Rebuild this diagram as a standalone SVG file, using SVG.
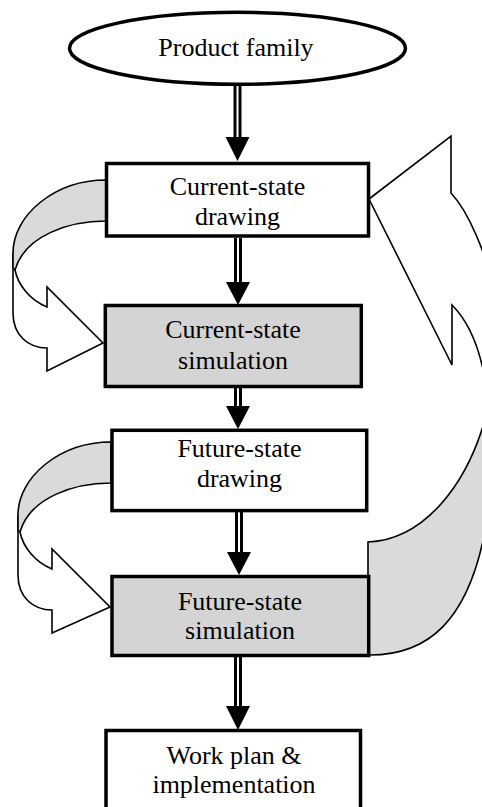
<svg xmlns="http://www.w3.org/2000/svg" width="482" height="807" viewBox="0 0 482 807">
<style>
.box{stroke:#000;stroke-width:3.5}
.wf{fill:#fff}
.gf{fill:#d4d4d4}
.rib{stroke:#000;stroke-width:1.6;stroke-linejoin:miter}
.rg{fill:#dadada}
.rw{fill:#fff}
text{font-family:"Liberation Serif","Times New Roman",serif;font-size:26px;text-anchor:middle;fill:#000}
.sh{stroke:#000;stroke-width:3}
.hd{fill:#000}
</style>
<rect width="482" height="807" fill="#fff"/>
<g id="ribbon-left-1">
  <path class="rib rw" d="M15,270 C18,285 30,300 47,307 L47,287 L103,343 L47,371 L47,348 C28,348 13,335 13,313 L13,253"/>
  <path class="rib rg" d="M106,180 C55,180 13,215 13,253 L13,268 L15,270 C25,235 70,221 106,221 Z"/>
</g>
<g id="ribbon-left-2">
  <path class="rib rw" d="M20,532 C23,547 35,562 52,569 L52,549 L110,607 L52,633 L52,610 C33,610 18,597 18,575 L18,515"/>
  <path class="rib rg" d="M111,442 C60,442 18,477 18,515 L18,530 L20,532 C30,497 75,483 111,483 Z"/>
</g>
<g id="ribbon-right">
  <path class="rib rw" d="M369,199 L451,136 L451,193 C468,211 486,252 497,300 L515,300 L515,420 L488,400 C482,345 465,318 452,305 L452,365 Z"/>
  <path class="rib rg" d="M368,542 C420,540 470,490 490,400 L520,400 L520,560 L487,520 C470,625 425,655 370,655 L368,655 Z"/>
</g>
<g id="connectors">
  <line class="sh" x1="235" y1="86" x2="235" y2="139"/><line class="sh" x1="240" y1="86" x2="240" y2="139"/>
  <polygon class="hd" points="225.5,137 249.5,137 237.5,161"/>
  <line class="sh" x1="235.5" y1="238" x2="235.5" y2="284"/><line class="sh" x1="240.5" y1="238" x2="240.5" y2="284"/>
  <polygon class="hd" points="226,282 250,282 238,305"/>
  <line class="sh" x1="235.5" y1="388" x2="235.5" y2="408"/><line class="sh" x1="240.5" y1="388" x2="240.5" y2="408"/>
  <polygon class="hd" points="226,406 250,406 238,429"/>
  <line class="sh" x1="236.5" y1="512" x2="236.5" y2="554"/><line class="sh" x1="241.5" y1="512" x2="241.5" y2="554"/>
  <polygon class="hd" points="227,552 251,552 239,575"/>
  <line class="sh" x1="235.5" y1="657" x2="235.5" y2="708"/><line class="sh" x1="240.5" y1="657" x2="240.5" y2="708"/>
  <polygon class="hd" points="226,706 250,706 238,730"/>
</g>
<g id="product-family">
  <ellipse class="box wf" cx="237.5" cy="48.3" rx="168" ry="36"/>
  <text x="236" y="56">Product family</text>
</g>
<g id="current-state-drawing">
  <rect class="box wf" x="106.5" y="163.5" width="262" height="72.5"/>
  <text x="237.5" y="195">Current-state</text>
  <text x="237.5" y="225">drawing</text>
</g>
<g id="current-state-simulation">
  <rect class="box gf" x="105.3" y="305.5" width="256" height="81"/>
  <text x="233" y="338">Current-state</text>
  <text x="233" y="369">simulation</text>
</g>
<g id="future-state-drawing">
  <rect class="box wf" x="112" y="430.3" width="254.7" height="80.3"/>
  <text x="239.5" y="457">Future-state</text>
  <text x="239.5" y="487">drawing</text>
</g>
<g id="future-state-simulation">
  <rect class="box gf" x="112" y="576.5" width="256.7" height="79"/>
  <text x="240" y="610">Future-state</text>
  <text x="240" y="639">simulation</text>
</g>
<g id="work-plan">
  <rect class="box wf" x="106" y="730.5" width="254.5" height="84"/>
  <text x="234" y="764">Work plan &amp;</text>
  <text x="234" y="793">implementation</text>
</g>
</svg>
